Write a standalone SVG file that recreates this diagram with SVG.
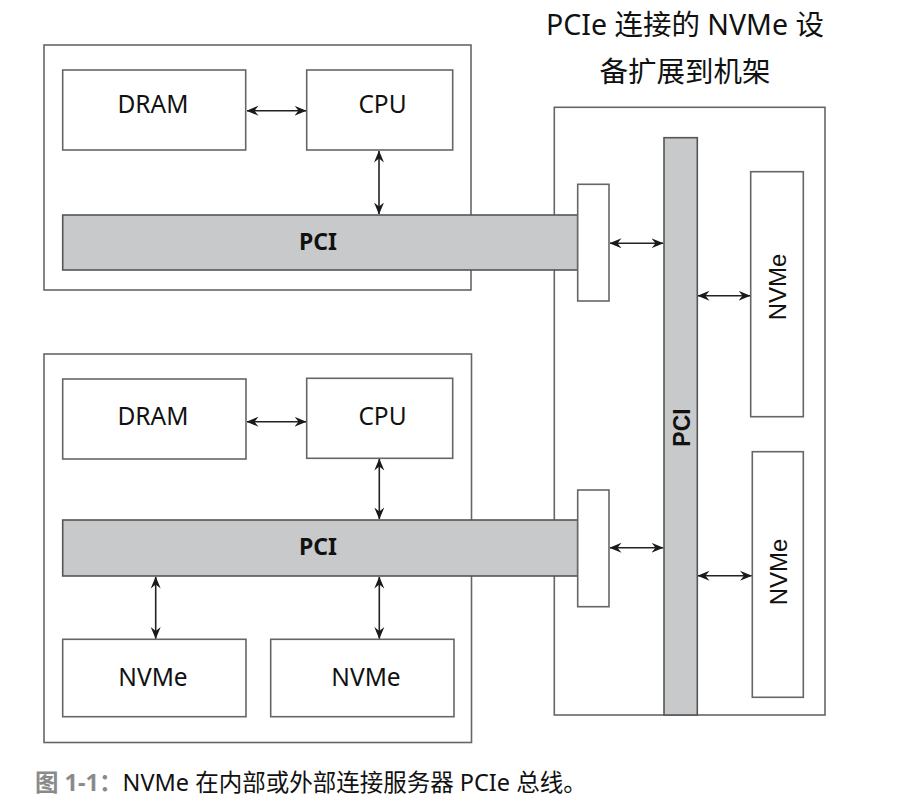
<svg xmlns="http://www.w3.org/2000/svg" width="917" height="811" viewBox="0 0 917 811">
<defs>
<style>
.box{fill:#fff;stroke:#666;stroke-width:1.6}
.bus{fill:#c8c9cb;stroke:#555;stroke-width:1.6}
.lbl{font-family:"Noto Sans","Open Sans","Noto Sans CJK SC",sans-serif;font-size:24.5px;fill:#111;text-anchor:middle}
.bold{font-family:"Noto Sans","Open Sans",sans-serif;font-size:23px;font-weight:bold;fill:#111;text-anchor:middle}
.vlbl{font-family:"Liberation Sans",Arial,sans-serif;font-size:24px;fill:#111;text-anchor:middle}
.vbold{font-family:"Liberation Sans",Arial,sans-serif;font-size:23px;font-weight:bold;fill:#111;text-anchor:middle}
.title{font-family:"Noto Sans","Noto Sans CJK SC",sans-serif;font-size:28.5px;fill:#111;text-anchor:middle}
.cap{font-family:"Noto Sans","Noto Sans CJK SC",sans-serif;font-size:23.5px;fill:#111}
.conn{stroke:#222;stroke-width:1.6;fill:none;marker-start:url(#ah);marker-end:url(#ah)}
</style>
<marker id="ah" viewBox="0 0 12 11" refX="11.5" refY="5.5" markerWidth="12" markerHeight="11" markerUnits="userSpaceOnUse" orient="auto-start-reverse">
<path d="M0,0.5 L12,5.5 L0,10.5 L4,5.5 z" fill="#1a1a1a"/>
</marker>
</defs>

<g id="title">
<text class="title" x="685" y="35">PCIe 连接的 NVMe 设</text>
<text class="title" x="685" y="82">备扩展到机架</text>
</g>

<g id="server1">
<rect class="box" x="44" y="45" width="427" height="245"/>
</g>
<g id="server2">
<rect class="box" x="44" y="354" width="427.5" height="388.5"/>
</g>
<g id="rack">
<rect class="box" x="554.3" y="107.3" width="270.7" height="607.7"/>
</g>

<g id="dram1"><rect class="box" x="62.7" y="70" width="183" height="80"/><text class="lbl" x="153" y="112.5">DRAM</text></g>
<g id="cpu1"><rect class="box" x="306.7" y="70" width="146" height="80"/><text class="lbl" x="382.5" y="112.5">CPU</text></g>
<g id="pci1"><rect class="bus" x="62.7" y="215" width="515" height="55"/><text class="bold" x="318" y="249.5">PCI</text></g>

<g id="dram2"><rect class="box" x="62.7" y="379" width="183.3" height="80"/><text class="lbl" x="153" y="424.5">DRAM</text></g>
<g id="cpu2"><rect class="box" x="306.7" y="378.3" width="146" height="80"/><text class="lbl" x="382.5" y="424.5">CPU</text></g>
<g id="pci2"><rect class="bus" x="62.7" y="520" width="515" height="56"/><text class="bold" x="318" y="554.5">PCI</text></g>
<g id="nvme-a"><rect class="box" x="62.7" y="639.3" width="183.3" height="77.4"/><text class="lbl" x="153" y="685.5">NVMe</text></g>
<g id="nvme-b"><rect class="box" x="270.7" y="639.3" width="183.3" height="77.4"/><text class="lbl" x="366" y="685.5">NVMe</text></g>

<g id="port1"><rect class="box" x="577.7" y="184.3" width="31.3" height="116.7"/></g>
<g id="port2"><rect class="box" x="577.7" y="490" width="31.3" height="116.7"/></g>
<g id="pci-rack"><rect class="bus" x="664" y="137.7" width="33.3" height="577.3"/><text class="vbold" transform="translate(689.5,427.5) rotate(-90)">PCI</text></g>
<g id="nvme-r1"><rect class="box" x="750.7" y="171.7" width="52.6" height="245"/><text class="vlbl" transform="translate(786,287) rotate(-90)">NVMe</text></g>
<g id="nvme-r2"><rect class="box" x="752.3" y="451.7" width="51" height="245.6"/><text class="vlbl" transform="translate(786.5,572) rotate(-90)">NVMe</text></g>

<g id="connectors">
<line class="conn" x1="247" y1="110.7" x2="306" y2="110.7"/>
<line class="conn" x1="379" y1="151" x2="379" y2="214"/>
<line class="conn" x1="610" y1="243.3" x2="663" y2="243.3"/>
<line class="conn" x1="698" y1="295.7" x2="750" y2="295.7"/>
<line class="conn" x1="247" y1="421.7" x2="306" y2="421.7"/>
<line class="conn" x1="379.3" y1="459" x2="379.3" y2="519"/>
<line class="conn" x1="610" y1="547.7" x2="663" y2="547.7"/>
<line class="conn" x1="698" y1="575.7" x2="751.5" y2="575.7"/>
<line class="conn" x1="155.7" y1="577" x2="155.7" y2="638.5"/>
<line class="conn" x1="379.3" y1="577" x2="379.3" y2="638.5"/>
</g>

<g id="caption">
<text class="cap" x="35" y="791"><tspan fill="#8a8a8a" font-weight="bold">图 1-1：</tspan>NVMe 在内部或外部连接服务器 PCIe 总线。</text>
</g>
</svg>
